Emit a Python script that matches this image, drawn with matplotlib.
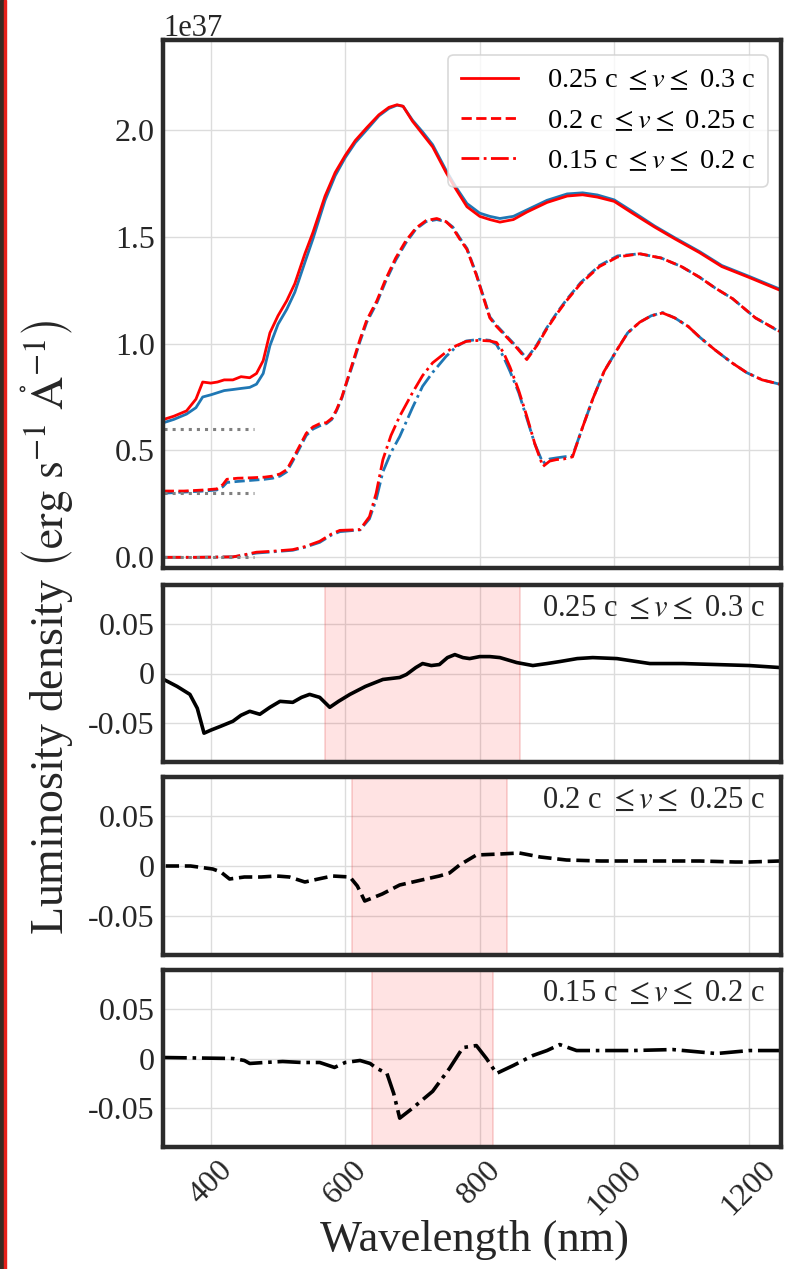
import numpy as np
import matplotlib
matplotlib.use('Agg')
import matplotlib.pyplot as plt
from matplotlib import rcParams
from matplotlib.patches import Rectangle

# 配置
config = {
    "font.family": ['Liberation Serif', 'DejaVu Serif'],
    "font.size": 22,
    "mathtext.fontset": 'stix',
    'axes.unicode_minus': False,
}
rcParams.update(config)

# ---- top panel spectra (units of 1e37) ----
wl_solid = [330, 345, 364, 378, 388, 400, 410, 420, 433, 445, 458, 468, 478, 488, 500, 513,
            525, 540, 552, 570, 585, 600, 615, 632, 650, 665, 677, 686, 700, 715, 730, 750,
            765, 781, 800, 815, 830, 850, 870, 900, 930, 953, 975, 1000, 1027, 1060, 1090,
            1127, 1160, 1200, 1246]
solid_red = [0.645, 0.66, 0.685, 0.74, 0.82, 0.815, 0.82, 0.83, 0.83, 0.845, 0.84, 0.86, 0.92,
             1.05, 1.13, 1.20, 1.28, 1.42, 1.52, 1.69, 1.80, 1.88, 1.95, 2.01, 2.07, 2.105,
             2.117, 2.11, 2.04, 1.98, 1.92, 1.80, 1.72, 1.64, 1.595, 1.58, 1.568, 1.58, 1.615,
             1.66, 1.69, 1.696, 1.685, 1.665, 1.61, 1.545, 1.49, 1.425, 1.36, 1.31, 1.25]
solid_blue = [0.63, 0.645, 0.67, 0.70, 0.75, 0.76, 0.77, 0.78, 0.785, 0.79, 0.795, 0.81, 0.86,
              0.99, 1.09, 1.16, 1.24, 1.38, 1.49, 1.67, 1.785, 1.87, 1.94, 2.00, 2.065, 2.10,
              2.115, 2.11, 2.045, 1.99, 1.93, 1.81, 1.73, 1.655, 1.61, 1.595, 1.585, 1.595,
              1.625, 1.67, 1.70, 1.705, 1.695, 1.672, 1.618, 1.55, 1.495, 1.43, 1.365, 1.315, 1.255]

wl_dash = [330, 360, 390, 409, 418, 424, 440, 460, 480, 492, 503, 513, 522, 532, 542, 552, 562,
           572, 580, 587, 595, 602, 612, 622, 632, 647, 660, 675, 690, 705, 720, 736, 750, 760,
           770, 781, 795, 807, 815, 825, 840, 855, 870, 885, 900, 915, 929, 950, 978, 1005,
           1038, 1070, 1100, 1127, 1150, 1176, 1210, 1246]
dash_red = [0.31, 0.31, 0.315, 0.32, 0.34, 0.365, 0.37, 0.372, 0.375, 0.38, 0.39, 0.41, 0.46,
            0.52, 0.58, 0.61, 0.625, 0.63, 0.65, 0.69, 0.75, 0.82, 0.92, 1.02, 1.11, 1.20, 1.30,
            1.40, 1.48, 1.54, 1.575, 1.585, 1.57, 1.54, 1.49, 1.44, 1.32, 1.20, 1.12, 1.08, 1.03,
            0.98, 0.925, 0.99, 1.07, 1.14, 1.20, 1.28, 1.36, 1.405, 1.42, 1.40, 1.36, 1.31, 1.26,
            1.21, 1.12, 1.057]
dash_blue = [0.30, 0.305, 0.31, 0.315, 0.33, 0.35, 0.355, 0.36, 0.365, 0.37, 0.38, 0.40, 0.45,
             0.51, 0.57, 0.60, 0.615, 0.625, 0.645, 0.685, 0.745, 0.815, 0.91, 1.01, 1.10, 1.19,
             1.29, 1.39, 1.47, 1.535, 1.57, 1.58, 1.57, 1.545, 1.495, 1.445, 1.325, 1.205, 1.125,
             1.085, 1.035, 0.985, 0.93, 0.995, 1.075, 1.145, 1.205, 1.285, 1.365, 1.41, 1.42,
             1.40, 1.36, 1.31, 1.26, 1.21, 1.12, 1.055]

wl_dd = [330, 380, 433, 450, 468, 490, 522, 540, 562, 580, 592, 610, 622, 636, 646, 656, 668,
         681, 700, 715, 730, 750, 765, 780, 800, 815, 825, 835, 845, 858, 870, 882, 894, 904,
         914, 925, 938, 952, 968, 985, 1004, 1020, 1038, 1055, 1072, 1090, 1110, 1127, 1150,
         1175, 1197, 1220, 1246]
dd_red = [0.0, 0.0, 0.002, 0.012, 0.024, 0.028, 0.036, 0.05, 0.075, 0.11, 0.126, 0.128, 0.13,
          0.19, 0.30, 0.457, 0.57, 0.66, 0.77, 0.85, 0.91, 0.96, 0.99, 1.01, 1.015, 1.012, 1.005,
          0.96, 0.89, 0.78, 0.66, 0.53, 0.425, 0.45, 0.457, 0.46, 0.47, 0.60, 0.74, 0.87, 0.97,
          1.05, 1.10, 1.13, 1.143, 1.12, 1.08, 1.03, 0.97, 0.91, 0.864, 0.83, 0.81]
dd_blue = [0.0, 0.0, 0.002, 0.01, 0.02, 0.025, 0.033, 0.047, 0.07, 0.105, 0.12, 0.125, 0.128,
           0.18, 0.27, 0.40, 0.49, 0.565, 0.70, 0.80, 0.865, 0.94, 0.985, 1.012, 1.02, 1.015,
           0.995, 0.94, 0.87, 0.77, 0.65, 0.53, 0.44, 0.46, 0.465, 0.47, 0.475, 0.60, 0.74, 0.87,
           0.97, 1.05, 1.10, 1.13, 1.145, 1.12, 1.08, 1.03, 0.97, 0.91, 0.864, 0.83, 0.81]

dotted_levels = [0.6, 0.3, 0.0]
dotted_range = [330, 465]

# ---- residual panels ----
res1_wl = [333, 350, 369, 380, 390, 400, 415, 433, 445, 458, 473, 488, 503, 522, 535, 547, 562,
           577, 590, 607, 630, 656, 681, 691, 705, 715, 728, 740, 752, 763, 775, 785, 800, 815,
           830, 855, 879, 900, 919, 945, 968, 1004, 1053, 1102, 1152, 1201, 1246]
res1 = [-0.007, -0.013, -0.021, -0.035, -0.060, -0.057, -0.053, -0.048, -0.042, -0.038, -0.041,
        -0.034, -0.028, -0.029, -0.024, -0.021, -0.024, -0.034, -0.028, -0.021, -0.013, -0.006,
        -0.004, -0.001, 0.006, 0.010, 0.008, 0.009, 0.016, 0.019, 0.016, 0.015, 0.017, 0.017,
        0.016, 0.011, 0.008, 0.010, 0.012, 0.015, 0.016, 0.015, 0.010, 0.010, 0.009, 0.008, 0.006]

res2_wl = [333, 370, 403, 415, 428, 450, 475, 498, 517, 540, 560, 581, 607, 618, 629, 655, 681,
           720, 740, 755, 770, 795, 830, 859, 890, 929, 980, 1027, 1127, 1180, 1201, 1246]
res2 = [0.0, 0.0, -0.003, -0.006, -0.013, -0.011, -0.011, -0.010, -0.011, -0.016, -0.013,
        -0.010, -0.011, -0.020, -0.035, -0.028, -0.019, -0.013, -0.010, -0.007, 0.001, 0.011,
        0.012, 0.013, 0.009, 0.006, 0.005, 0.005, 0.005, 0.004, 0.004, 0.005]

res3_wl = [330, 433, 450, 458, 480, 507, 535, 562, 584, 600, 622, 637, 647, 662, 672, 681, 700,
           730, 755, 775, 795, 810, 825, 850, 879, 900, 919, 944, 1027, 1087, 1152, 1201, 1246]
res3 = [0.001, 0.0, -0.002, -0.005, -0.004, -0.003, -0.004, -0.004, -0.009, -0.004, -0.002,
        -0.005, -0.010, -0.015, -0.035, -0.060, -0.050, -0.033, -0.010, 0.011, 0.013, 0.000,
        -0.015, -0.007, 0.003, 0.008, 0.014, 0.008, 0.008, 0.009, 0.005, 0.008, 0.008]

spans = [(570, 860), (610, 840), (640, 820)]
labels = [r'0.25 c $\leq v \leq$ 0.3 c', r'0.2 c $\leq v \leq$ 0.25 c', r'0.15 c $\leq v \leq$ 0.2 c']
styles = ['-', '--', '-.']

W, H = 793, 1269
fig = plt.figure(figsize=(W / 100, H / 100), dpi=100)

# 左侧边缘的截图残留
fig.patches.append(Rectangle((0, 0), 4 / W, 1, transform=fig.transFigure, color='#3a2a22', zorder=0))
fig.patches.append(Rectangle((4 / W, 0), 2 / W, 1, transform=fig.transFigure, color='#e8201a', zorder=0))

left, width = 163 / W, 618 / W
def box(top_px, bot_px):
    return [left, 1 - bot_px / H, width, (bot_px - top_px) / H]

ax0 = fig.add_axes(box(40, 568))
axr = [fig.add_axes(box(585, 762)), fig.add_axes(box(777, 955)), fig.add_axes(box(970, 1147))]

spine_c = '#2b2b2b'
def style(ax):
    for s in ax.spines.values():
        s.set_color(spine_c)
        s.set_linewidth(3.2)
    ax.grid(True, color='#dcdcdc', linewidth=1.0)
    ax.set_axisbelow(True)
    ax.tick_params(length=0, pad=6, labelsize=23, colors='#262626')
    ax.set_xlim(329, 1248)
    ax.set_xticks([400, 600, 800, 1000, 1200])

# top panel
style(ax0)
scale = 1e37
tops = [(wl_solid, solid_red, solid_blue), (wl_dash, dash_red, dash_blue), (wl_dd, dd_red, dd_blue)]
for (wl, r, b), ls, lab in zip(tops, styles, labels):
    ax0.plot(wl, np.array(b) * scale, color='#1f77b4', ls=ls, lw=2.0)
    ax0.plot(wl, np.array(r) * scale, color='red', ls=ls, lw=2.0, label=lab)
for lv in dotted_levels:
    ax0.plot(dotted_range, [lv * scale, lv * scale], color='gray', ls=':', lw=2.2)
ax0.set_ylim(-0.05 * scale, 2.42 * scale)
ax0.set_yticks(np.array([0.0, 0.5, 1.0, 1.5, 2.0]) * scale)
ax0.set_xticklabels([])
ax0.yaxis.get_offset_text().set_fontsize(22)
leg = ax0.legend(loc='upper right', fontsize=20.5, frameon=True, fancybox=True,
                 handlelength=2.0, borderpad=0.45, labelspacing=0.5, handletextpad=1.0,
                 borderaxespad=0, bbox_to_anchor=(0.979, 0.972))
leg.get_frame().set_edgecolor('#d0d0d0')
leg.get_frame().set_linewidth(1.2)

# residual panels
res = [(res1_wl, res1), (res2_wl, res2), (res3_wl, res3)]
for i, (ax, (wl, r), ls, lab, sp) in enumerate(zip(axr, res, styles, labels, spans)):
    style(ax)
    ax.axvspan(sp[0], sp[1], facecolor=(1, 0, 0, 0.11), edgecolor=(0.9, 0.3, 0.3, 0.25), lw=1.2)
    ax.plot(wl, r, color='black', ls=ls, lw=2.6)
    ax.set_ylim(-0.089, 0.089)
    ax.set_yticks([-0.05, 0, 0.05])
    ax.set_yticklabels(['-0.05', '0', '0.05'])
    ax.text(0.975, 0.95, lab, transform=ax.transAxes, ha='right', va='top', fontsize=22,
            color='#262626')
    if i < 2:
        ax.set_xticklabels([])
    else:
        ax.set_xticklabels(['400', '600', '800', '1000', '1200'], rotation=45)

fig.text(48 / W, 1 - 627 / H,
         r'Luminosity density $\left(\mathrm{erg\ s^{-1}\ \mathring{A}^{-1}}\right)$',
         rotation=90, ha='center', va='center', fontsize=33, color='#262626')
fig.text(474 / W, 1 - 1240 / H, 'Wavelength (nm)', ha='center', va='center', fontsize=32,
         color='#262626')

fig.savefig('out.png', dpi=100)
